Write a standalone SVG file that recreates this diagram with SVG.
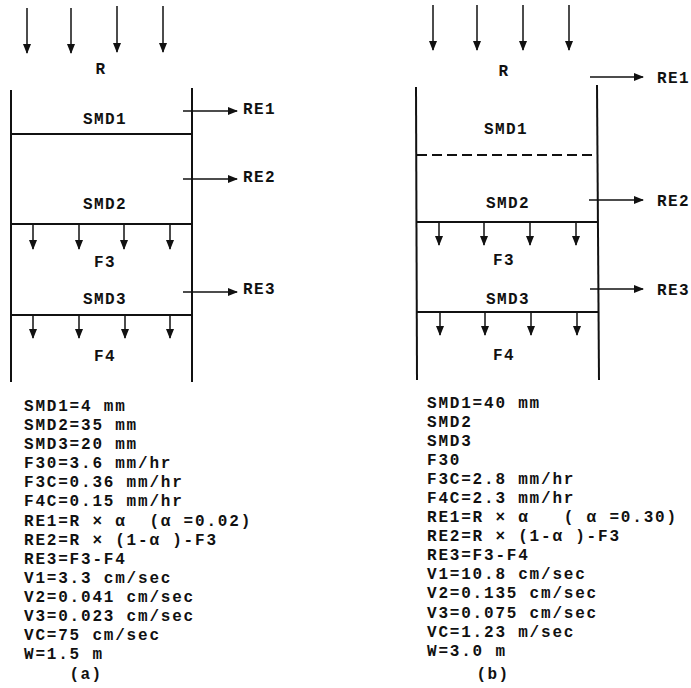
<svg xmlns="http://www.w3.org/2000/svg" width="691" height="688" viewBox="0 0 691 688">
<style>
.t{font-family:"Liberation Mono","DejaVu Sans Mono",monospace;font-weight:bold;font-size:16px;letter-spacing:1.4px;fill:#111}
.b{font-family:"Liberation Mono","DejaVu Sans Mono",monospace;font-weight:bold;font-size:16px;letter-spacing:1.8px;fill:#111}
.c{text-anchor:middle}
.w{stroke:#111;stroke-width:2;fill:none}
.a{stroke:#111;stroke-width:1.5;fill:none;marker-end:url(#ah)}
.d{stroke:#111;stroke-width:2;fill:none;stroke-dasharray:10 5}
</style>
<defs>
<marker id="ah" markerWidth="10" markerHeight="8" refX="9" refY="4" orient="auto" markerUnits="userSpaceOnUse">
<path d="M0,0 L10,4 L0,8 Z" fill="#111"/>
</marker>
</defs>
<rect width="691" height="688" fill="#fff"/>

<!-- Diagram (a) -->
<g id="a-column">
<line class="w" x1="11" y1="90" x2="11" y2="382"/>
<line class="w" x1="192" y1="88" x2="192" y2="382"/>
<line class="w" x1="11" y1="134" x2="192" y2="134"/>
<line class="w" x1="11" y1="224" x2="192" y2="224"/>
<line class="w" x1="11" y1="315" x2="192" y2="315"/>
</g>
<g id="a-labels">
<text class="t c" x="101" y="74">R</text>
<text class="t c" x="105" y="124">SMD1</text>
<text class="t c" x="105" y="209">SMD2</text>
<text class="t c" x="105" y="267">F3</text>
<text class="t c" x="105" y="304">SMD3</text>
<text class="t c" x="105" y="361">F4</text>
<text class="t" x="243" y="114">RE1</text>
<text class="t" x="243" y="182">RE2</text>
<text class="t" x="243" y="294">RE3</text>
</g>
<g id="a-connectors">
<line class="a" x1="27" y1="8" x2="27" y2="53"/>
<line class="a" x1="71" y1="8" x2="71" y2="53"/>
<line class="a" x1="117" y1="6" x2="117" y2="52"/>
<line class="a" x1="163" y1="6" x2="163" y2="52"/>
<line class="a" x1="183" y1="111" x2="237" y2="111"/>
<line class="a" x1="183" y1="179" x2="237" y2="179"/>
<line class="a" x1="183" y1="292" x2="237" y2="292"/>
<line class="a" x1="33" y1="225" x2="33" y2="249"/>
<line class="a" x1="79" y1="225" x2="79" y2="249"/>
<line class="a" x1="124" y1="225" x2="124" y2="249"/>
<line class="a" x1="170" y1="225" x2="170" y2="249"/>
<line class="a" x1="33" y1="316" x2="33" y2="338"/>
<line class="a" x1="79" y1="316" x2="79" y2="338"/>
<line class="a" x1="125" y1="316" x2="125" y2="338"/>
<line class="a" x1="170" y1="316" x2="170" y2="338"/>
</g>
<g id="a-params">
<text class="b" x="24" y="411">SMD1=4 mm</text>
<text class="b" x="24" y="430">SMD2=35 mm</text>
<text class="b" x="24" y="449">SMD3=20 mm</text>
<text class="b" x="24" y="468">F30=3.6 mm/hr</text>
<text class="b" x="24" y="487">F3C=0.36 mm/hr</text>
<text class="b" x="24" y="506">F4C=0.15 mm/hr</text>
<text class="b" x="24" y="526" xml:space="preserve">RE1=R × α  (α =0.02)</text>
<text class="b" x="24" y="545" xml:space="preserve">RE2=R × (1-α )-F3</text>
<text class="b" x="24" y="564">RE3=F3-F4</text>
<text class="b" x="24" y="583">V1=3.3 cm/sec</text>
<text class="b" x="24" y="602">V2=0.041 cm/sec</text>
<text class="b" x="24" y="621">V3=0.023 cm/sec</text>
<text class="b" x="24" y="640">VC=75 cm/sec</text>
<text class="b" x="24" y="659">W=1.5 m</text>
<text class="t c" x="86" y="679">(a)</text>
</g>

<!-- Diagram (b) -->
<g id="b-column">
<line class="w" x1="416" y1="87" x2="417" y2="380"/>
<line class="w" x1="597" y1="85" x2="599" y2="380"/>
<line class="d" x1="417" y1="155" x2="597" y2="155"/>
<line class="w" x1="417" y1="222" x2="598" y2="222"/>
<line class="w" x1="417" y1="312" x2="598" y2="312"/>
</g>
<g id="b-labels">
<text class="t c" x="504" y="76">R</text>
<text class="t c" x="506" y="134">SMD1</text>
<text class="t c" x="508" y="208">SMD2</text>
<text class="t c" x="504" y="265">F3</text>
<text class="t c" x="508" y="304">SMD3</text>
<text class="t c" x="504" y="360">F4</text>
<text class="t" x="657" y="83">RE1</text>
<text class="t" x="657" y="206">RE2</text>
<text class="t" x="657" y="295">RE3</text>
</g>
<g id="b-connectors">
<line class="a" x1="433" y1="5" x2="433" y2="50"/>
<line class="a" x1="477" y1="5" x2="477" y2="50"/>
<line class="a" x1="523" y1="5" x2="523" y2="50"/>
<line class="a" x1="569" y1="5" x2="569" y2="50"/>
<line class="a" x1="590" y1="77" x2="643" y2="77"/>
<line class="a" x1="589" y1="200" x2="643" y2="200"/>
<line class="a" x1="590" y1="289" x2="643" y2="289"/>
<line class="a" x1="439" y1="223" x2="439" y2="245"/>
<line class="a" x1="484" y1="223" x2="484" y2="245"/>
<line class="a" x1="530" y1="223" x2="530" y2="245"/>
<line class="a" x1="576" y1="223" x2="576" y2="245"/>
<line class="a" x1="440" y1="313" x2="440" y2="335"/>
<line class="a" x1="485" y1="313" x2="485" y2="335"/>
<line class="a" x1="531" y1="313" x2="531" y2="335"/>
<line class="a" x1="577" y1="313" x2="577" y2="335"/>
</g>
<g id="b-params">
<text class="b" x="427" y="408">SMD1=40 mm</text>
<text class="b" x="427" y="427">SMD2</text>
<text class="b" x="427" y="446">SMD3</text>
<text class="b" x="427" y="465">F30</text>
<text class="b" x="427" y="484">F3C=2.8 mm/hr</text>
<text class="b" x="427" y="503">F4C=2.3 mm/hr</text>
<text class="b" x="427" y="522" xml:space="preserve">RE1=R × α   ( α =0.30)</text>
<text class="b" x="427" y="541" xml:space="preserve">RE2=R × (1-α )-F3</text>
<text class="b" x="427" y="560">RE3=F3-F4</text>
<text class="b" x="427" y="579">V1=10.8 cm/sec</text>
<text class="b" x="427" y="598">V2=0.135 cm/sec</text>
<text class="b" x="427" y="618">V3=0.075 cm/sec</text>
<text class="b" x="427" y="637">VC=1.23 m/sec</text>
<text class="b" x="427" y="656">W=3.0 m</text>
<text class="t c" x="493" y="679">(b)</text>
</g>
</svg>
